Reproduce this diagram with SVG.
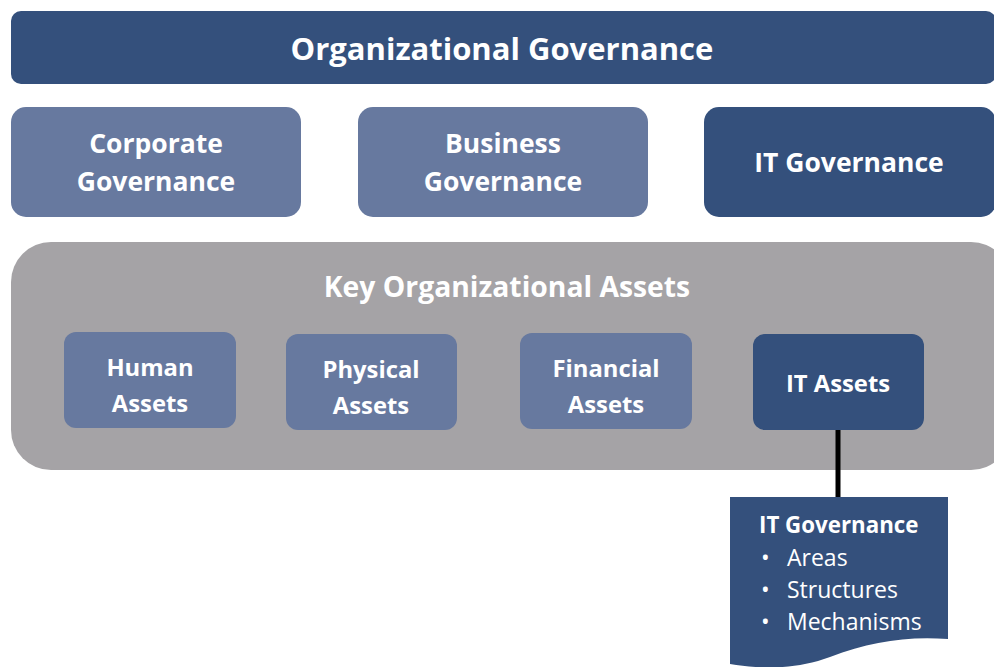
<svg xmlns="http://www.w3.org/2000/svg" width="994" height="667" viewBox="0 0 994 667">
<style>
.dark{fill:#34507c}
.light{fill:#67799f}
.t{font-family:"Open Sans",Lato,"Liberation Sans",sans-serif;fill:#ffffff;text-anchor:middle;font-weight:bold}
.b{font-family:"Open Sans",Lato,"Liberation Sans",sans-serif;fill:#ffffff}
</style>
<rect width="994" height="667" fill="#ffffff"/>
<g id="org-gov">
<rect class="dark" x="11" y="11" width="985" height="73" rx="10"/>
<text class="t" x="502" y="60" font-size="31">Organizational Governance</text>
</g>
<g id="corp-gov">
<rect class="light" x="11" y="107" width="290" height="110" rx="15"/>
<text class="t" x="156" y="153" font-size="26.5">Corporate</text>
<text class="t" x="156" y="191" font-size="26.5">Governance</text>
</g>
<g id="bus-gov">
<rect class="light" x="358" y="107" width="290" height="110" rx="15"/>
<text class="t" x="503" y="153" font-size="26.5">Business</text>
<text class="t" x="503" y="191" font-size="26.5">Governance</text>
</g>
<g id="it-gov">
<rect class="dark" x="704" y="107" width="292" height="110" rx="15"/>
<text class="t" x="849" y="172" font-size="26.5">IT Governance</text>
</g>
<g id="key-assets">
<rect x="11" y="242" width="1000" height="228" rx="40" fill="#a5a3a6"/>
<text class="t" x="507" y="297" font-size="28.3">Key Organizational Assets</text>
</g>
<g id="human">
<rect class="light" x="64" y="332" width="172" height="96" rx="12"/>
<text class="t" x="150" y="376" font-size="23.8">Human</text>
<text class="t" x="150" y="412" font-size="23.8">Assets</text>
</g>
<g id="physical">
<rect class="light" x="286" y="334" width="171" height="96" rx="12"/>
<text class="t" x="371" y="378" font-size="23.8">Physical</text>
<text class="t" x="371" y="414" font-size="23.8">Assets</text>
</g>
<g id="financial">
<rect class="light" x="520" y="333" width="172" height="96" rx="12"/>
<text class="t" x="606" y="377" font-size="23.8">Financial</text>
<text class="t" x="606" y="413" font-size="23.8">Assets</text>
</g>
<g id="it-assets">
<rect class="dark" x="753" y="334" width="171" height="96" rx="12"/>
<text class="t" x="838" y="392" font-size="23.8">IT Assets</text>
</g>
<g id="connectors">
<line x1="838" y1="430" x2="838" y2="497" stroke="#000000" stroke-width="5"/>
</g>
<g id="it-gov-doc">
<path class="dark" d="M730,497 H948 V639 C905,636 870,642 830,657 C795,670 760,669 730,664 Z"/>
<text class="b" x="759" y="533" font-size="22.3" font-weight="bold">IT Governance</text>
<text class="b" x="761" y="566" font-size="23">•<tspan x="787">Areas</tspan></text>
<text class="b" x="761" y="598" font-size="23">•<tspan x="787">Structures</tspan></text>
<text class="b" x="761" y="630" font-size="23">•<tspan x="787">Mechanisms</tspan></text>
</g>
</svg>
